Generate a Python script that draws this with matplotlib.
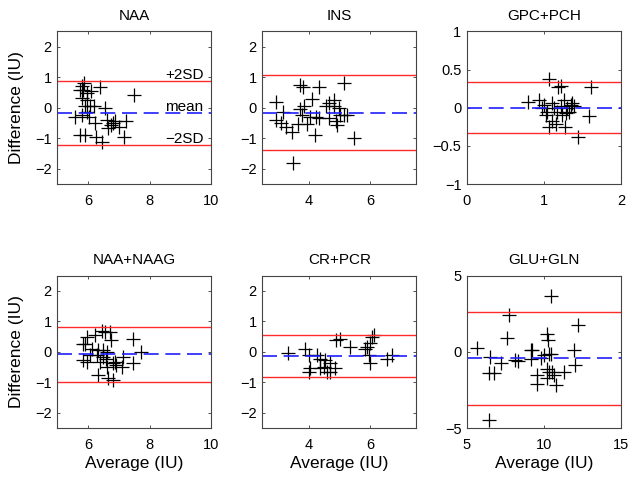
import matplotlib
matplotlib.use("Agg")
import matplotlib.pyplot as plt

plt.rcParams["font.family"] = ["Liberation Sans", "DejaVu Sans"]

# Bland-Altman data: (average, difference) per metabolite
naa_avg = [5.86, 6.38, 5.73, 6.08, 5.79, 5.97, 7.48, 5.90, 6.19, 6.54, 5.57, 5.79,
           6.04, 6.22, 6.60, 6.87, 7.22, 7.01, 6.65, 5.73, 5.90, 6.27, 6.44, 7.16,
           6.81, 5.84, 5.97, 6.06, 5.95, 5.79, 6.76]
naa_diff = [0.80, 0.67, 0.59, 0.56, 0.31, 0.26, 0.42, 0.04, 0.06, -0.02, -0.31, -0.24,
            -0.29, -0.49, -0.40, -0.42, -0.45, -0.62, -0.67, -0.89, -0.89, -0.95, -1.11, -0.95,
            -0.51, 0.59, 0.48, 0.04, -0.13, 0.70, -0.56]

ins_avg = [2.95, 3.18, 2.95, 3.10, 3.27, 3.46, 3.49, 3.73, 3.82, 4.33, 5.14, 4.11,
           3.71, 3.84, 3.67, 3.95, 3.78, 4.05, 4.25, 4.33, 4.20, 4.58, 4.84, 4.82,
           4.98, 4.68, 4.92, 5.01, 5.14, 5.25, 5.47, 4.65, 4.90]
ins_diff = [0.20, -0.13, -0.40, -0.51, -0.64, -0.78, -1.80, 0.75, 0.67, 0.69, 0.80, 0.29,
            -0.05, 0.06, -0.53, -0.53, -0.24, -0.29, -0.31, -0.34, -0.89, 0.06, 0.26, 0.04,
            -0.02, -0.34, -0.56, -0.24, -0.24, -0.24, -1.00, 0.15, -0.42]

gpc_avg = [1.07, 1.22, 1.18, 1.61, 0.79, 0.93, 1.00, 1.11, 1.26, 1.35, 1.39, 1.04,
           1.17, 1.28, 1.02, 1.10, 1.15, 1.07, 1.27, 1.44, 1.59, 1.22, 1.30, 0.98,
           1.13, 1.24, 1.33, 1.37]
gpc_diff = [0.37, 0.29, 0.27, 0.27, 0.08, 0.10, 0.04, 0.06, 0.10, 0.04, 0.02, -0.05,
            -0.05, -0.07, -0.09, -0.18, -0.22, -0.25, -0.25, -0.39, -0.11, 0.02, -0.01, -0.01,
            -0.01, -0.09, -0.05, 0.06]

naag_avg = [5.97, 6.22, 6.44, 6.55, 6.71, 5.90, 5.84, 6.76, 7.46, 6.14, 6.33, 6.49,
            6.60, 6.06, 6.28, 6.47, 7.73, 5.84, 5.95, 6.38, 6.58, 6.60, 6.81, 7.14,
            6.92, 7.09, 7.46, 6.33, 6.65, 6.81, 6.87]
naag_diff = [0.49, 0.54, 0.68, 0.65, 0.65, 0.27, 0.27, 0.40, 0.43, 0.11, 0.05, 0.05,
             0.00, -0.11, -0.11, -0.18, 0.00, -0.27, -0.33, -0.33, -0.22, -0.49, -0.38, -0.16,
             -0.43, -0.49, -0.38, -0.76, -0.87, -0.92, -0.33]

cr_avg = [3.35, 3.89, 4.03, 4.05, 4.03, 4.27, 4.38, 4.54, 4.49, 4.60, 4.71, 4.87,
          4.90, 5.03, 5.34, 5.85, 5.90, 5.96, 5.99, 6.01, 6.07, 6.12, 6.55, 6.72,
          4.71, 4.38]
cr_diff = [-0.03, 0.08, -0.11, -0.52, -0.65, -0.11, -0.22, -0.27, -0.49, -0.65, -0.38, -0.54,
           0.38, 0.43, 0.16, 0.08, 0.16, -0.11, -0.38, 0.29, 0.49, 0.54, -0.22, -0.11,
           -0.65, -0.54]

glu_avg = [10.43, 7.72, 12.22, 7.57, 5.65, 6.52, 7.22, 6.41, 6.74, 6.41, 8.15, 8.30,
           9.13, 9.24, 9.13, 9.78, 10.17, 10.26, 10.00, 10.33, 10.17, 10.33, 9.57, 9.57,
           10.22, 10.65, 10.76, 11.30, 11.96, 12.00, 10.48, 10.54]
glu_diff = [3.63, 2.39, 1.74, 0.93, 0.28, -0.33, -0.72, -1.41, -1.37, -4.46, -0.54, -0.59,
            0.11, 0.15, -0.50, -0.43, 1.15, 0.76, -0.22, -0.11, -1.09, -1.30, -1.52, -2.11,
            -1.74, -1.52, -2.17, -1.30, 0.15, -0.87, -0.11, -1.30]

titles = ["NAA", "INS", "GPC+PCH", "NAA+NAAG", "CR+PCR", "GLU+GLN"]
averages = [naa_avg, ins_avg, gpc_avg, naag_avg, cr_avg, glu_avg]
differences = [naa_diff, ins_diff, gpc_diff, naag_diff, cr_diff, glu_diff]
mean_diff = [-0.16, -0.16, 0.0, -0.08, -0.14, -0.43]
upper_sd = [0.89, 1.07, 0.34, 0.82, 0.56, 2.61]
lower_sd = [-1.21, -1.37, -0.33, -0.98, -0.82, -3.48]

xlims = [(5, 10), (2.5, 7.5), (0, 2), (5, 10), (2.5, 7.5), (5, 15)]
ylims = [(-2.5, 2.5), (-2.5, 2.5), (-1, 1), (-2.5, 2.5), (-2.5, 2.5), (-5, 5)]
xticks = [[6, 8, 10], [4, 6], [0, 1, 2], [6, 8, 10], [4, 6], [5, 10, 15]]
yticks = [[-2, -1, 0, 1, 2], [-2, -1, 0, 1, 2], [-1, -0.5, 0, 0.5, 1],
          [-2, -1, 0, 1, 2], [-2, -1, 0, 1, 2], [-5, 0, 5]]

fig = plt.figure(figsize=(6.35, 4.83), dpi=100)
lefts = [0.0902, 0.4131, 0.7354]
bottoms = [0.619, 0.1135]
w, h = 0.2425, 0.316

for i in range(6):
    r, c = divmod(i, 3)
    ax = fig.add_axes([lefts[c], bottoms[r], w, h])
    ax.plot(averages[i], differences[i], "k+", markersize=10.5, markeredgewidth=0.9)
    ax.axhline(upper_sd[i], color="#ff2a2a", lw=1)
    ax.axhline(lower_sd[i], color="#ff2a2a", lw=1)
    ax.axhline(mean_diff[i], color="#1f1fff", lw=1.2, linestyle=(0, (9, 4)))
    ax.set_xlim(*xlims[i])
    ax.set_ylim(*ylims[i])
    ax.set_xticks(xticks[i])
    ax.set_yticks(yticks[i])
    ax.set_yticklabels([f"{t:g}".replace("-", "\u2212") for t in yticks[i]])
    ax.tick_params(direction="in", top=True, right=True, length=2.5,
                   labelsize=10.5, width=0.6, color="#333333")
    ax.tick_params(axis="x", pad=7)
    ax.tick_params(axis="y", pad=4)
    for s in ax.spines.values():
        s.set_color("#444444")
        s.set_linewidth(0.8)
    ax.set_title(titles[i], fontsize=11, pad=8)
    if c == 0:
        ax.set_ylabel("Difference (IU)", fontsize=12.5, labelpad=8)
    if r == 1:
        ax.set_xlabel("Average (IU)", fontsize=12.5, labelpad=3)
    if i == 0:
        ax.text(9.75, upper_sd[i] + 0.05, "+2SD", ha="right", va="baseline", fontsize=11)
        ax.text(9.75, mean_diff[i] + 0.05, "mean", ha="right", va="baseline", fontsize=11)
        ax.text(9.75, lower_sd[i] + 0.05, "\u22122SD", ha="right", va="baseline", fontsize=11)

fig.savefig("out.png", dpi=100)
